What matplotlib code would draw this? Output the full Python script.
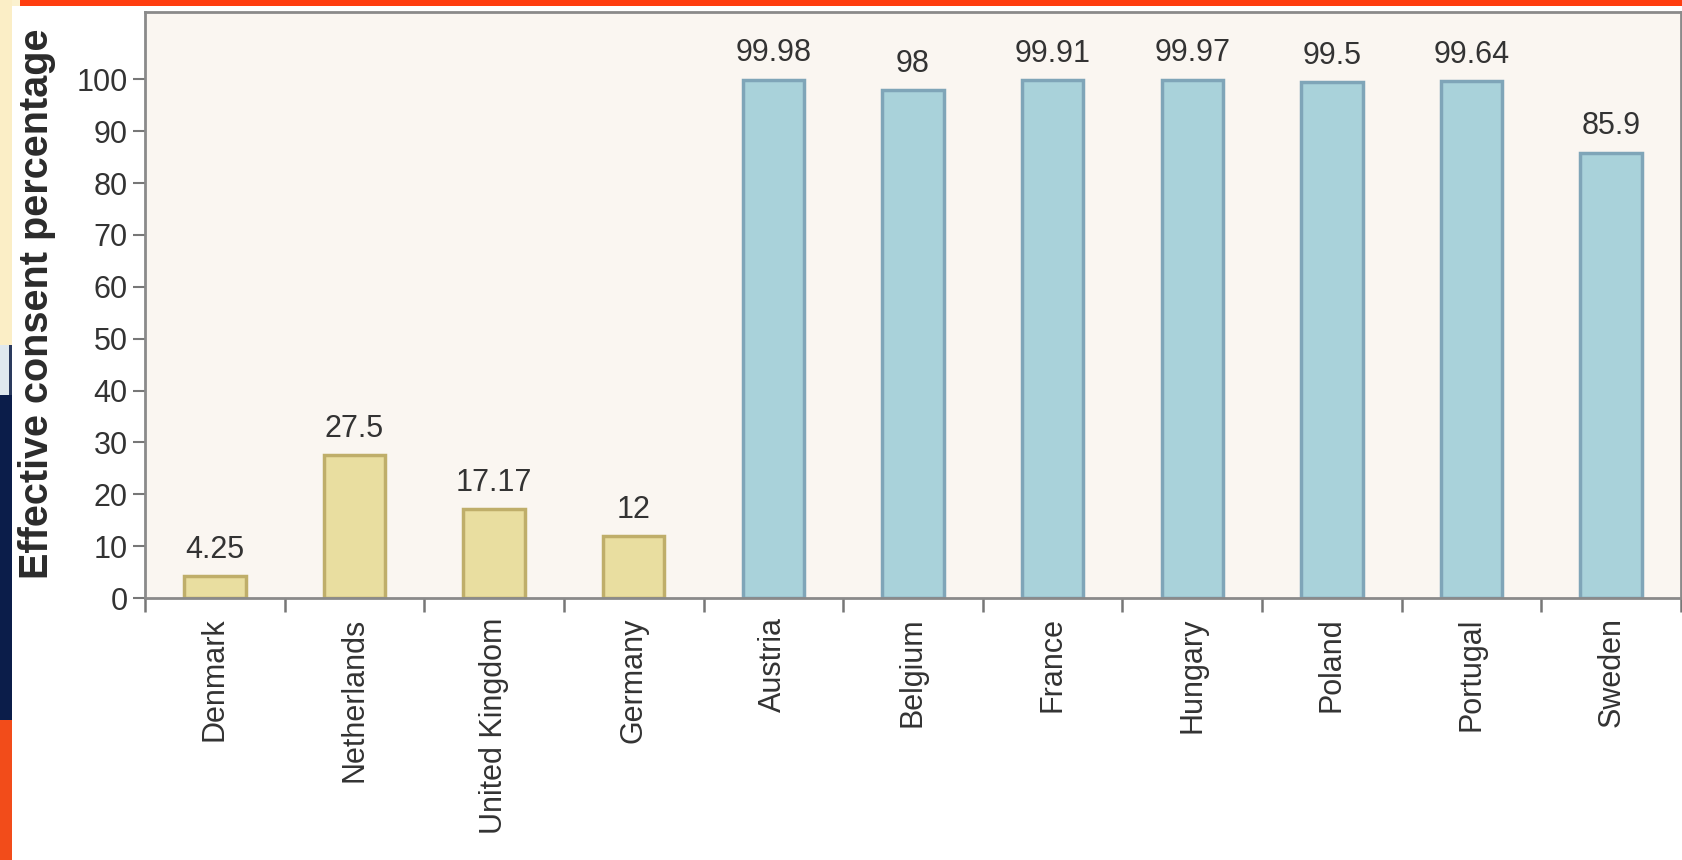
import matplotlib
matplotlib.use("Agg")
import matplotlib.pyplot as plt
from matplotlib.patches import Rectangle
import numpy as np

countries = ["Denmark", "Netherlands", "United Kingdom", "Germany", "Austria",
             "Belgium", "France", "Hungary", "Poland", "Portugal", "Sweden"]
consent = [4.25, 27.5, 17.17, 12, 99.98, 98, 99.91, 99.97, 99.5, 99.64, 85.9]
value_labels = ["4.25", "27.5", "17.17", "12", "99.98", "98", "99.91", "99.97",
                "99.5", "99.64", "85.9"]
opt_in = [True, True, True, True, False, False, False, False, False, False, False]
y_ticks = [0, 10, 20, 30, 40, 50, 60, 70, 80, 90, 100]
y_label = "Effective consent percentage"

plt.rcParams['font.family'] = ['Liberation Sans', 'DejaVu Sans']

W, H = 1683, 860
fig = plt.figure(figsize=(W / 100, H / 100), dpi=100)
fig.patch.set_facecolor("white")

# decorative slide frame
fig.add_artist(Rectangle((0, 1 - 6 / H), 1, 6 / H, transform=fig.transFigure,
                         color="#fbf1cf", zorder=0, lw=0))
fig.add_artist(Rectangle((20 / W, 1 - 6 / H), 1, 6 / H, transform=fig.transFigure,
                         color="#ff3d0f", zorder=0, lw=0))
fig.add_artist(Rectangle((0, 1 - 345 / H), 12 / W, 345 / H, transform=fig.transFigure,
                         color="#fbeec6", zorder=0, lw=0))
fig.add_artist(Rectangle((0, 1 - 395 / H), 12 / W, 50 / H, transform=fig.transFigure,
                         color="#dfe8ee", zorder=0, lw=0))
fig.add_artist(Rectangle((9 / W, 1 - 395 / H), 3 / W, 50 / H, transform=fig.transFigure,
                         color="#2a3a5e", zorder=0, lw=0))
fig.add_artist(Rectangle((0, 1 - 720 / H), 12 / W, 325 / H, transform=fig.transFigure,
                         color="#0b1d4a", zorder=0, lw=0))
fig.add_artist(Rectangle((0, 0), 12 / W, 140 / H, transform=fig.transFigure,
                         color="#f24c1a", zorder=0, lw=0))

left, right, top, bottom = 145, 1681, 12, 598
ax = fig.add_axes([left / W, 1 - bottom / H, (right - left) / W, (bottom - top) / H])
ax.set_facecolor("#faf6f1")

x = np.arange(len(countries))
faces = ["#e9dea0" if o else "#a9d2da" for o in opt_in]
edges = ["#bfae6a" if o else "#7fa5b8" for o in opt_in]
bars = ax.bar(x, consent, width=0.44, color=faces, edgecolor=edges, linewidth=2.5, zorder=2)

for xi, v, lab in zip(x, consent, value_labels):
    ax.annotate(lab, (xi, v), xytext=(0, 8), textcoords="offset points",
                ha="center", va="bottom", fontsize=22, color="#333333")

ax.set_xlim(-0.5, len(countries) - 0.5)
ax.set_ylim(0, 113)
ax.set_yticks(y_ticks)
ax.tick_params(axis="y", labelsize=22, labelcolor="#333333", color="#777777",
               length=9, width=1.5, direction="out")
ax.set_xticks(x)
ax.set_xticklabels(countries, rotation=90, fontsize=22, color="#333333")
ax.tick_params(axis="x", which="major", length=0, pad=14)
ax.set_xticks(np.arange(-0.5, len(countries) + 0.5, 1), minor=True)
ax.tick_params(axis="x", which="minor", length=10, width=1.8, color="#777777",
               direction="out")

for s in ax.spines.values():
    s.set_color("#8a8a8a")
    s.set_linewidth(2)

ax.set_ylabel(y_label, fontsize=28.5, fontweight="bold", color="#2b2b2b")
ax.yaxis.set_label_coords(-(left - 56) / (right - left), 0.5)
ax.yaxis.label.set_y(1 - (304 - top) / (bottom - top))

fig.savefig("out.png", dpi=100)
